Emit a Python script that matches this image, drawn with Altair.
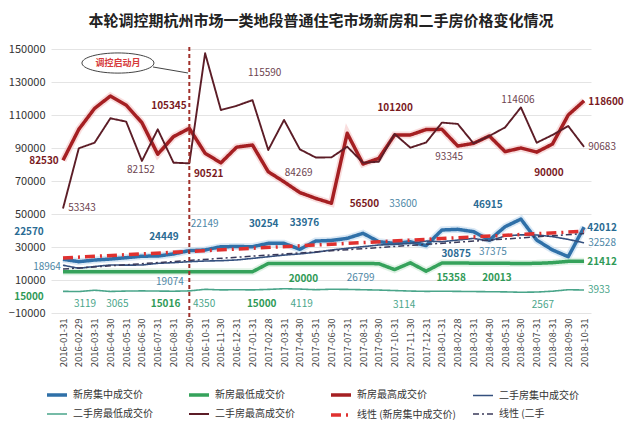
import altair as alt
import pandas as pd

dates = ["2016-01-31", "2016-02-29", "2016-03-31", "2016-04-30", "2016-05-31", "2016-06-30",
         "2016-07-31", "2016-08-31", "2016-09-30", "2016-10-31", "2016-11-30", "2016-12-31",
         "2017-01-31", "2017-02-28", "2017-03-31", "2017-04-30", "2017-05-31", "2017-06-30",
         "2017-07-31", "2017-08-31", "2017-09-30", "2017-10-31", "2017-11-30", "2017-12-31",
         "2018-01-31", "2018-02-28", "2018-03-31", "2018-04-30", "2018-05-31", "2018-06-30",
         "2018-07-31", "2018-08-31", "2018-09-30", "2018-10-31"]

series_names = ["新房集中成交价", "新房最低成交价", "新房最高成交价", "二手房集中成交价",
                "二手房最低成交价", "二手房最高成交价", "线性 (新房集中成交价)", "线性 (二手"]

new_mid = [22570, 21100, 22100, 22700, 23500, 24449, 24500, 25800, 27800, 28200,
           30200, 30254, 30200, 32200, 32200, 28600, 33600, 33976, 35250, 38300,
           33200, 32200, 33200, 30875, 40300, 40700, 39300, 34200, 42300, 46915,
           34200, 28200, 24100, 42012]
new_low = [15000, 15000, 15000, 15000, 15000, 15000, 15000, 15016, 15000, 15000,
           15000, 15000, 15000, 20000, 20000, 20000, 20000, 20000, 20000, 20000,
           19900, 16300, 20400, 15358, 20300, 20300, 20200, 20200, 20100, 20013,
           20100, 20500, 21300, 21412]
new_high = [82530, 101300, 114000, 121500, 116000, 105345, 86200, 96900, 101900, 86800,
            81000, 90521, 91800, 75600, 69500, 63000, 59500, 56500, 98900, 80300,
            83700, 97900, 97900, 101200, 101300, 91200, 92800, 97300, 87800, 90000,
            87500, 92400, 110000, 118600]
sh_mid = [18964, 17100, 18200, 19100, 19000, 19074, 20100, 20500, 21100, 21500,
          21700, 22149, 23100, 24100, 25100, 25800, 26799, 28200, 29200, 30200,
          31200, 31600, 32200, 33600, 33200, 34200, 35200, 33600, 36700, 37375,
          37300, 36300, 34600, 32528]
sh_low = [3119, 3000, 3800, 3065, 3300, 3400, 3300, 3200, 3400, 4350,
          4000, 4100, 4000, 4300, 4700, 4500, 4119, 4400, 4300, 4100,
          3900, 3600, 3300, 3114, 3200, 3100, 3000, 2900, 2800, 2567,
          2700, 3200, 4100, 3933]
sh_high = [53343, 89800, 93200, 108000, 106000, 82152, 101300, 81100, 80700, 147400,
           113000, 115590, 119000, 88800, 107000, 89200, 84269, 84300, 90800, 81100,
           81700, 98500, 90200, 93345, 105400, 104600, 92800, 97300, 102500, 114606,
           93200, 97900, 103300, 90683]

values = {
    "新房集中成交价": new_mid, "新房最低成交价": new_low, "新房最高成交价": new_high,
    "二手房集中成交价": sh_mid, "二手房最低成交价": sh_low, "二手房最高成交价": sh_high,
}

# labelled points: (series, index, dx, dy)
labels = [
    ("新房最高成交价", 0, -19, 1), ("新房最高成交价", 5, 27, -17), ("新房最高成交价", 11, -28, 27),
    ("新房最高成交价", 17, 33, 1), ("新房最高成交价", 23, -31, -22), ("新房最高成交价", 29, 28, 25),
    ("新房最高成交价", 33, 22, 1),
    ("二手房最高成交价", 0, 19, 0), ("二手房最高成交价", 5, -1, 9), ("二手房最高成交价", 11, 28, -33),
    ("二手房最高成交价", 16, -17, 16), ("二手房最高成交价", 23, 23, 15), ("二手房最高成交价", 29, -3, -7),
    ("二手房最高成交价", 33, 18, 0),
    ("新房集中成交价", 0, -34, -27), ("新房集中成交价", 5, 22, -19), ("新房集中成交价", 11, 27, -23),
    ("新房集中成交价", 17, -27, -17), ("新房集中成交价", 23, 30, 8), ("新房集中成交价", 29, -33, -14),
    ("新房集中成交价", 33, 18, 1),
    ("二手房集中成交价", 0, -16, 2), ("二手房集中成交价", 5, 28, 17), ("二手房集中成交价", 11, -32, -36),
    ("二手房集中成交价", 16, 45, 26), ("二手房集中成交价", 23, -23, -37), ("二手房集中成交价", 29, -28, 17),
    ("二手房集中成交价", 33, 18, 0),
    ("新房最低成交价", 0, -34, 25), ("新房最低成交价", 7, -8, 32), ("新房最低成交价", 11, 25, 32),
    ("新房最低成交价", 17, -28, 15), ("新房最低成交价", 23, 25, 7), ("新房最低成交价", 29, -24, 15),
    ("新房最低成交价", 33, 18, 1),
    ("二手房最低成交价", 0, 22, 13), ("二手房最低成交价", 3, 7, 13), ("二手房最低成交价", 9, -1, 15),
    ("二手房最低成交价", 16, -14, 14), ("二手房最低成交价", 23, -22, 14), ("二手房最低成交价", 29, 22, 13),
    ("二手房最低成交价", 33, 15, 0),
]

line_colors = ["#2f70a8", "#35a25b", "#a51f22", "#34507e", "#4aa58a", "#5c1d27", "#e0312f", "#3a3a5a"]
line_widths = [3.5, 3.5, 3.5, 1.6, 1.6, 1.9, 3.5, 1.5]
line_dashes = [[1, 0], [1, 0], [1, 0], [1, 0], [1, 0], [1, 0], [10, 5, 2, 5], [6, 3, 2, 3]]
glow_colors = {"新房集中成交价": "#b3d2ec", "新房最低成交价": "#c2e5cc", "新房最高成交价": "#f4bcbc"}
label_colors = {"新房最高成交价": "#7a1a1e", "二手房最高成交价": "#6d4450", "新房集中成交价": "#2a6b93",
                "二手房集中成交价": "#4d87a6", "新房最低成交价": "#2f9a57", "二手房最低成交价": "#4aa58a"}
bold_series = ["新房最高成交价", "新房集中成交价", "新房最低成交价"]

rows = []
for name, vals in values.items():
    for i, v in enumerate(vals):
        rows.append({"series": name, "i": i, "date": dates[i], "v": v,
                     "glow": glow_colors.get(name, "")})
df = pd.DataFrame(rows)

lab_rows = []
for s, i, dx, dy in labels:
    v = values[s][i]
    lab_rows.append({"series": s, "i": i, "v": v, "text": str(v), "dx": dx, "dy": dy,
                     "lc": label_colors[s], "bold": s in bold_series})
ldf = pd.DataFrame(lab_rows)

label_expr = "[" + ",".join("'" + d + "'" for d in dates) + "][datum.value]"

x_axis = alt.Axis(values=list(range(len(dates))), labelExpr=label_expr, labelAngle=270,
                  grid=False, ticks=False, domain=False, title=None, labelFontSize=9.5,
                  labelColor="#444", labelPadding=5, labelOverlap=False, labelFlush=False)
y_ticks = [-10000, 10000, 30000, 50000, 70000, 90000, 110000, 130000, 150000]
y_axis = alt.Axis(values=y_ticks, title=None, domain=False, ticks=False, gridColor="#e4e4e4",
                  labelFontSize=11, labelColor="#333", labelPadding=6, format="d",
                  labelOverlap=False, labelFlush=False)
x_scale = alt.Scale(domain=[-0.76, 33.44], nice=False, zero=False)
y_scale = alt.Scale(domain=[-10000, 150000], nice=False, zero=False)

x_enc = alt.X("i:Q", scale=x_scale, axis=x_axis)
y_enc = alt.Y("v:Q", scale=y_scale, axis=y_axis)

legend = alt.Legend(orient="none", legendX=-6, legendY=334, columns=4, direction="horizontal",
                    title=None, symbolType="stroke", symbolSize=400, labelFontSize=10,
                    labelColor="#333", gridAlign="all", columnPadding=10, rowPadding=1,
                    labelOffset=4, labelLimit=200)

color_enc = alt.Color("series:N", scale=alt.Scale(domain=series_names, range=line_colors), legend=legend)
width_enc = alt.StrokeWidth("series:N", scale=alt.Scale(type="ordinal", domain=series_names, range=line_widths),
                            legend=legend)
dash_enc = alt.StrokeDash("series:N", scale=alt.Scale(domain=series_names, range=line_dashes), legend=legend)

base = alt.Chart(df)

glow = base.transform_filter(alt.datum.glow != "").mark_line(strokeWidth=7, opacity=0.5).encode(
    x=x_enc, y=y_enc, detail="series:N", stroke=alt.Stroke("glow:N", scale=None, legend=None))

lines = base.mark_line(strokeJoin="round").encode(
    x=x_enc, y=y_enc, color=color_enc, strokeWidth=width_enc, strokeDash=dash_enc)

trend = base.transform_filter(
    alt.FieldOneOfPredicate(field="series", oneOf=["新房集中成交价", "二手房集中成交价"])
).transform_regression("i", "v", groupby=["series"], method="linear").transform_calculate(
    series="datum.series == '新房集中成交价' ? '线性 (新房集中成交价)' : '线性 (二手'"
).mark_line().encode(x=x_enc, y=y_enc, color=color_enc, strokeWidth=width_enc, strokeDash=dash_enc)

# annotation: start month of the policy
anno = pd.DataFrame({"i": [8], "v": [151200], "bottom": [-13000]})
vrule = alt.Chart(anno).mark_rule(color="#a0302a", strokeWidth=2, strokeDash=[4, 3]).encode(
    x=x_enc, y=y_enc, y2="bottom:Q")

callout = pd.DataFrame({"i": [3.48], "v": [141500], "t": ["调控启动月"]})
pointer_df = pd.DataFrame({"i": [5.7], "v": [139100], "i1": [7.92], "v1": [135450]})
pointer = alt.Chart(pointer_df).mark_rule(color="#444", strokeWidth=1).encode(
    x=x_enc, x2="i1:Q", y=y_enc, y2="v1:Q")
ellipse_path = ("M-1,0 C-1,-0.155 -0.552,-0.28 0,-0.28 C0.552,-0.28 1,-0.155 1,0 "
                "C1,0.155 0.552,0.28 0,0.28 C-0.552,0.28 -1,0.155 -1,0 Z")
ellipse = alt.Chart(callout).mark_point(shape=ellipse_path, size=5184, filled=True, fill="white",
                                        stroke="#444", strokeWidth=1, opacity=1).encode(x=x_enc, y=y_enc)
ctext = alt.Chart(callout).mark_text(color="#d63a3a", fontSize=9, fontWeight="bold").encode(
    x=x_enc, y=y_enc, text="t:N")

lab_base = alt.Chart(ldf)
txt_bold = lab_base.transform_filter(alt.datum.bold == True).mark_text(
    fontSize=10, fontWeight="bold", dx={"expr": "datum.dx"}, dy={"expr": "datum.dy"}).encode(
    x=x_enc, y=y_enc, text="text:N", fill=alt.Fill("lc:N", scale=None, legend=None))
txt_norm = lab_base.transform_filter(alt.datum.bold == False).mark_text(
    fontSize=10, dx={"expr": "datum.dx"}, dy={"expr": "datum.dy"}).encode(
    x=x_enc, y=y_enc, text="text:N", fill=alt.Fill("lc:N", scale=None, legend=None))

chart = alt.layer(glow, lines, trend, vrule, pointer, ellipse, ctext, txt_bold, txt_norm).properties(
    width=540, height=264,
    title=alt.TitleParams("本轮调控期杭州市场一类地段普通住宅市场新房和二手房价格变化情况",
                          fontSize=15, fontWeight="bold", color="#222", anchor="middle", offset=14),
    padding={"left": 0, "top": 6, "right": 0, "bottom": 0},
).configure(font="Noto Sans CJK SC", background="white").configure_view(
    stroke=None
).configure_axis(labelOverlap=False)

chart.save("out.html", embed_options={"renderer": "svg", "actions": False})
